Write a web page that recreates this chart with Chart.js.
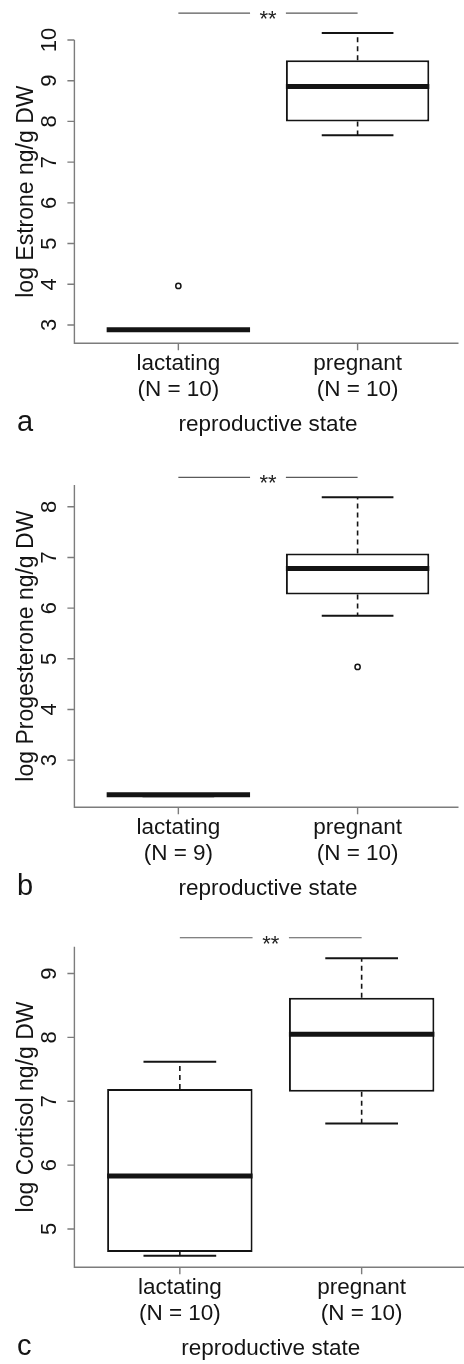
<!DOCTYPE html>
<html>
<head>
<meta charset="utf-8">
<title>Reproductive state and log hormone concentrations</title>
<script src="https://cdn.jsdelivr.net/npm/chart.js@4.4.0/dist/chart.umd.min.js"></script>
<style>
    html, body { margin: 0; padding: 0; background: #fff; }
    body { width: 464px; height: 1364px; position: relative; overflow: hidden; }
    .panel { position: absolute; left: 0; width: 464px; }
</style>
</head>
<body>
<div class="panel" style="top:0;height:440px"><canvas id="estroneChart"></canvas></div>
<div class="panel" style="top:440px;height:470px"><canvas id="progesteroneChart"></canvas></div>
<div class="panel" style="top:890px;height:474px"><canvas id="cortisolChart"></canvas></div>

<script>
// Boxplot summaries (log ng/g DW)
const states = ['lactating', 'pregnant'];
const xTitle = 'reproductive state';

// a - Estrone
const estroneN = [10, 10];
const estroneMin = [2.85, 7.66];
const estroneQ1 = [2.88, 8.00];
const estroneMedian = [2.88, 8.86];
const estroneQ3 = [2.88, 9.50];
const estroneMax = [2.88, 10.17];
const estroneOutliers = [[3.96], []];
const estroneTicks = [3, 4, 5, 6, 7, 8, 9, 10];
const estroneRange = [2.55, 10.0];
const estroneSig = 10.66;

// b - Progesterone
const progesteroneN = [9, 10];
const progesteroneMin = [2.29, 5.85];
const progesteroneQ1 = [2.32, 6.27];
const progesteroneMedian = [2.32, 6.78];
const progesteroneQ3 = [2.32, 7.08];
const progesteroneMax = [2.32, 8.19];
const progesteroneOutliers = [[], [4.84]];
const progesteroneTicks = [3, 4, 5, 6, 7, 8];
const progesteroneRange = [2.07, 8.43];
const progesteroneSig = 8.58;

// c - Cortisol
const cortisolN = [10, 10];
const cortisolMin = [4.58, 6.65];
const cortisolQ1 = [4.64, 7.15];
const cortisolMedian = [5.83, 8.05];
const cortisolQ3 = [7.19, 8.62];
const cortisolMax = [7.62, 9.24];
const cortisolOutliers = [[], []];
const cortisolTicks = [5, 6, 7, 8, 9];
const cortisolRange = [4.40, 9.42];
const cortisolSig = 9.56;

const INK = '#141414';
const AXIS = '#7c7c7c';
const FONT = '"Liberation Sans", Arial, sans-serif';
const BOX_HALF = 0.4;
const CAP_HALF = 0.2;

// join line pieces with a null point so each piece is drawn on its own
function pieces(list) {
    const out = [];
    list.forEach((p, i) => {
        if (i > 0) out.push({ x: p[0].x, y: null });
        out.push(...p);
    });
    return out;
}

function lineSet(data, width, color, dash) {
    return {
        type: 'line',
        data: data,
        borderColor: color,
        borderWidth: width,
        borderDash: dash || [],
        pointRadius: 0,
        fill: false,
        tension: 0,
        spanGaps: false,
        clip: false
    };
}

// Axes, tick labels and titles drawn through the chart's scales
const boxAxes = {
    id: 'boxAxes',
    afterDraw(chart, args, opts) {
        const ctx = chart.ctx;
        const area = chart.chartArea;
        const xs = chart.scales.x;
        const ys = chart.scales.y;

        ctx.save();
        ctx.strokeStyle = AXIS;
        ctx.lineWidth = 1.4;
        ctx.beginPath();
        ctx.moveTo(area.left, area.top);
        ctx.lineTo(area.left, area.bottom);
        ctx.lineTo(area.right, area.bottom);
        opts.yTicks.forEach(v => {
            const y = ys.getPixelForValue(v);
            ctx.moveTo(area.left - 7, y);
            ctx.lineTo(area.left, y);
        });
        states.forEach((s, i) => {
            const x = xs.getPixelForValue(i + 1);
            ctx.moveTo(x, area.bottom);
            ctx.lineTo(x, area.bottom + 7);
        });
        ctx.stroke();

        ctx.fillStyle = INK;
        // y tick labels, rotated like R's default
        ctx.font = '22px ' + FONT;
        ctx.textAlign = 'center';
        ctx.textBaseline = 'alphabetic';
        opts.yTicks.forEach(v => {
            ctx.save();
            ctx.translate(area.left - 18, ys.getPixelForValue(v));
            ctx.rotate(-Math.PI / 2);
            ctx.fillText(String(v), 0, 0);
            ctx.restore();
        });

        // y title
        ctx.font = '23px ' + FONT;
        ctx.save();
        ctx.translate(33, (area.top + area.bottom) / 2);
        ctx.rotate(-Math.PI / 2);
        ctx.fillText(opts.yTitle, 0, 0);
        ctx.restore();

        // category labels with sample sizes
        ctx.font = '22.5px ' + FONT;
        states.forEach((s, i) => {
            const x = xs.getPixelForValue(i + 1);
            ctx.fillText(s, x, area.bottom + 27);
            ctx.fillText('(N = ' + opts.n[i] + ')', x, area.bottom + 53);
        });
        ctx.fillText(xTitle, xs.getPixelForValue(1.5), area.bottom + 88);

        // panel letter
        ctx.font = '29px ' + FONT;
        ctx.textAlign = 'left';
        ctx.fillText(opts.letter, 17, area.bottom + 88);

        // significance stars
        ctx.font = '22px ' + FONT;
        ctx.textAlign = 'center';
        ctx.fillStyle = '#222';
        ctx.fillText('**', xs.getPixelForValue(1.5), ys.getPixelForValue(opts.sig) + 13);
        ctx.restore();
    }
};

function makeBoxChart(canvasId, p) {
    const groupX = states.map((s, i) => i + 1);

    const medians = pieces(groupX.map((x, i) => [
        { x: x - BOX_HALF, y: p.median[i] }, { x: x + BOX_HALF, y: p.median[i] }
    ]));
    const whiskers = pieces(groupX.flatMap((x, i) => [
        [{ x: x, y: p.q3[i] }, { x: x, y: p.max[i] }],
        [{ x: x, y: p.q1[i] }, { x: x, y: p.min[i] }]
    ]));
    const caps = pieces(groupX.flatMap((x, i) => [
        [{ x: x - CAP_HALF, y: p.max[i] }, { x: x + CAP_HALF, y: p.max[i] }],
        [{ x: x - CAP_HALF, y: p.min[i] }, { x: x + CAP_HALF, y: p.min[i] }]
    ]));
    const outliers = groupX.flatMap((x, i) => p.outliers[i].map(v => ({ x: x, y: v })));
    const sigBar = pieces([
        [{ x: 1, y: p.sig }, { x: 1.4, y: p.sig }],
        [{ x: 1.6, y: p.sig }, { x: 2, y: p.sig }]
    ]);

    return new Chart(document.getElementById(canvasId), {
        type: 'bar',
        data: {
            datasets: [
                lineSet(medians, 5, INK),
                {
                    type: 'bar',
                    data: groupX.map((x, i) => ({ x: x, y: [p.q1[i], p.q3[i]] })),
                    backgroundColor: '#ffffff',
                    borderColor: INK,
                    borderWidth: 2,
                    borderSkipped: false,
                    categoryPercentage: 1,
                    barPercentage: 2 * BOX_HALF,
                    clip: false
                },
                lineSet(caps, 2, INK),
                lineSet(whiskers, 1.6, INK, [5, 4]),
                {
                    type: 'scatter',
                    data: outliers,
                    pointRadius: 2.6,
                    pointBorderWidth: 1.5,
                    pointBackgroundColor: '#ffffff',
                    pointBorderColor: INK,
                    clip: false
                },
                lineSet(sigBar, 1.1, '#5a5a5a')
            ]
        },
        options: {
            responsive: true,
            maintainAspectRatio: false,
            animation: false,
            events: [],
            layout: { padding: { left: 74.4, right: 0, top: p.padTop, bottom: p.padBottom } },
            plugins: {
                legend: { display: false },
                tooltip: { enabled: false },
                boxAxes: { yTicks: p.ticks, yTitle: p.yTitle, n: p.n, letter: p.letter, sig: p.sig }
            },
            scales: {
                x: {
                    type: 'linear', display: false, offset: false,
                    min: 0.42, max: 2.563,
                    afterBuildTicks: s => { s.ticks = groupX.map(v => ({ value: v })); }
                },
                y: {
                    type: 'linear', display: false,
                    min: p.range[0], max: p.range[1],
                    afterBuildTicks: s => { s.ticks = p.ticks.map(v => ({ value: v })); }
                }
            }
        },
        plugins: [boxAxes]
    });
}

makeBoxChart('estroneChart', {
    letter: 'a', yTitle: 'log Estrone ng/g DW', n: estroneN,
    min: estroneMin, q1: estroneQ1, median: estroneMedian, q3: estroneQ3, max: estroneMax,
    outliers: estroneOutliers, ticks: estroneTicks, range: estroneRange, sig: estroneSig,
    padTop: 40, padBottom: 96.7
});

makeBoxChart('progesteroneChart', {
    letter: 'b', yTitle: 'log Progesterone ng/g DW', n: progesteroneN,
    min: progesteroneMin, q1: progesteroneQ1, median: progesteroneMedian, q3: progesteroneQ3, max: progesteroneMax,
    outliers: progesteroneOutliers, ticks: progesteroneTicks, range: progesteroneRange, sig: progesteroneSig,
    padTop: 45, padBottom: 102.7
});

makeBoxChart('cortisolChart', {
    letter: 'c', yTitle: 'log Cortisol ng/g DW', n: cortisolN,
    min: cortisolMin, q1: cortisolQ1, median: cortisolMedian, q3: cortisolQ3, max: cortisolMax,
    outliers: cortisolOutliers, ticks: cortisolTicks, range: cortisolRange, sig: cortisolSig,
    padTop: 56.7, padBottom: 96.7
});
</script>
</body>
</html>
